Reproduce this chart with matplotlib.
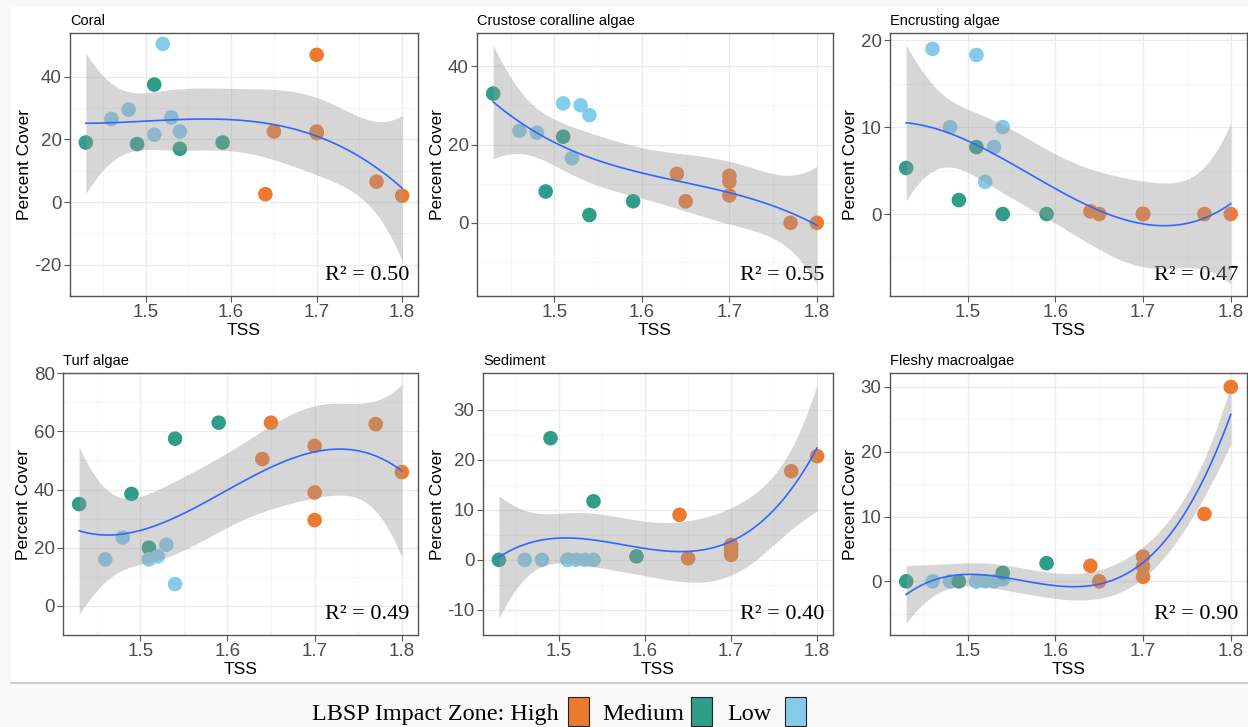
import matplotlib
matplotlib.use('Agg')
import matplotlib.pyplot as plt
from matplotlib.patches import Rectangle
from matplotlib.lines import Line2D
import numpy as np

plt.rcParams['font.family'] = ['Liberation Sans', 'DejaVu Sans']

# sites (shared by all panels)
tss = [1.43, 1.46, 1.48, 1.49, 1.51, 1.51, 1.52, 1.53, 1.54, 1.54, 1.59,
       1.64, 1.65, 1.70, 1.70, 1.70, 1.77, 1.80]
zone = ['M', 'L', 'L', 'M', 'M', 'L', 'L', 'L', 'L', 'M', 'M',
        'H', 'H', 'H', 'H', 'H', 'H', 'H']

titles = ['Coral', 'Crustose coralline algae', 'Encrusting algae',
          'Turf algae', 'Sediment', 'Fleshy macroalgae']
coral = [19, 26.5, 29.5, 18.5, 37.5, 21.5, 50.5, 27, 22.5, 17, 19,
         2.5, 22.5, 47, 22.5, 22, 6.5, 2]
cca = [33, 23.5, 23, 8, 22, 30.5, 16.5, 30, 27.5, 2, 5.5,
       12.5, 5.5, 12, 10.5, 7, 0, 0]
encrusting = [5.3, 19, 10, 1.6, 7.7, 18.3, 3.7, 7.7, 10, 0, 0,
              0.3, 0, 0, 0, 0, 0, 0]
turf = [35, 16, 23.5, 38.5, 20, 16, 17, 21, 7.5, 57.5, 63,
        50.5, 63, 55, 39, 29.5, 62.5, 46]
sediment = [0, 0, 0, 24.3, 0, 0, 0, 0, 0, 11.7, 0.7,
            9, 0.3, 3, 2, 1, 17.7, 20.7]
fleshy = [0, 0, 0, 0, 0, 0, 0, 0, 0.3, 1.3, 2.8,
          2.4, 0, 3.8, 2.3, 0.7, 10.4, 30]
series = [coral, cca, encrusting, turf, sediment, fleshy]
r2_labels = ['0.50', '0.55', '0.47', '0.49', '0.40', '0.90']

zone_colors = {'H': '#EE7A30', 'M': '#2E9E88', 'L': '#84CBEC'}

# layout (figure fractions)
W, H = 1248, 727
boxes = [(70, 33, 418, 296), (477, 33, 833, 296), (890, 33, 1247, 296),
         (63, 373, 418, 635), (483, 373, 833, 635), (890, 373, 1247, 635)]
ysteps = [20, 20, 10, 20, 10, 10]

fig = plt.figure(figsize=(W / 100, H / 100), dpi=100)
fig.patch.set_facecolor('#f9f9f9')
fig.patches.append(Rectangle((11 / W, (H - 683) / H), 1 - 11 / W, (683 - 7) / H,
                             transform=fig.transFigure, facecolor='white',
                             edgecolor='none', zorder=-5))
fig.lines.append(Line2D([11 / W, 1], [(H - 683) / H] * 2, transform=fig.transFigure,
                        color='#cfcfcf', lw=1.5, zorder=-4))

x = np.array(tss)
cols = [zone_colors[z] for z in zone]
xs = np.linspace(x.min(), x.max(), 80)
t_crit = 2.145  # t(0.975, df=14)

for k in range(6):
    y = np.array(series[k], dtype=float)
    l, t, r, b = boxes[k]
    ax = fig.add_axes([l / W, 1 - b / H, (r - l) / W, (b - t) / H])

    # cubic fit + 95% CI
    X = np.vander(x, 4)
    beta, *_ = np.linalg.lstsq(X, y, rcond=None)
    resid = y - X @ beta
    s2 = resid @ resid / (len(x) - 4)
    XtX_inv = np.linalg.inv(X.T @ X)
    Xs = np.vander(xs, 4)
    fit = Xs @ beta
    se = np.sqrt(s2 * np.einsum('ij,jk,ik->i', Xs, XtX_inv, Xs))
    lo, hi = fit - t_crit * se, fit + t_crit * se

    ax.scatter(x, y, s=110, c=cols, edgecolors='none', zorder=3)
    ax.fill_between(xs, lo, hi, color='#999999', alpha=0.4, lw=0, zorder=4)
    ax.plot(xs, fit, color='#3366FF', lw=1.2, zorder=5)

    ymin = min(y.min(), lo.min())
    ymax = max(y.max(), hi.max())
    pad = 0.05 * (ymax - ymin)
    ax.set_ylim(ymin - pad, ymax + pad)
    ax.set_xlim(1.4115, 1.8185)

    st = ysteps[k]
    ax.set_xticks([1.5, 1.6, 1.7, 1.8])
    ax.set_xticks([1.45, 1.55, 1.65, 1.75], minor=True)
    yt = np.arange(np.ceil((ymin - pad) / st) * st, ymax + pad, st)
    ax.set_yticks(yt)
    ax.set_yticks(yt - st / 2, minor=True)
    ax.set_xticklabels(['1.5', '1.6', '1.7', '1.8'])
    ax.set_yticklabels(['%d' % v for v in yt])
    ax.grid(True, which='major', color='#ebebeb', lw=0.9, zorder=0)
    ax.grid(True, which='minor', color='#f4f4f4', lw=0.6, zorder=0)
    ax.set_axisbelow(True)
    ax.tick_params(which='minor', length=0)
    ax.tick_params(which='major', length=4, color='#555555', labelsize=13.5,
                   labelcolor='#4d4d4d', pad=2)
    for sp in ax.spines.values():
        sp.set_color('#555555')
        sp.set_linewidth(1.0)

    ax.set_xlabel('TSS', fontsize=12.5, labelpad=1)
    ax.set_ylabel('Percent Cover', fontsize=12.5, labelpad=2)
    ax.set_title(titles[k], loc='left', fontsize=10.5, pad=6)
    ax.text(0.975, 0.06, 'R² = ' + r2_labels[k], transform=ax.transAxes,
            ha='right', va='baseline', fontsize=16, family='Liberation Serif')

# legend strip
ty = 7 / H
fs = 17.4
fig.text(312 / W, ty, 'LBSP Impact Zone: High', fontsize=fs,
         family='Liberation Serif', va='baseline', ha='left')
fig.text(602 / W, ty, 'Medium', fontsize=fs, family='Liberation Serif',
         va='baseline', ha='left')
fig.text(727 / W, ty, 'Low', fontsize=fs, family='Liberation Serif',
         va='baseline', ha='left')
for x0, z in [(568, 'H'), (691, 'M'), (785, 'L')]:
    fig.patches.append(Rectangle((x0 / W, 1 / H), 21 / W, 29 / H,
                                 transform=fig.transFigure,
                                 facecolor=zone_colors[z], edgecolor='#222222',
                                 lw=0.8))

plt.savefig('out.png', dpi=100)
